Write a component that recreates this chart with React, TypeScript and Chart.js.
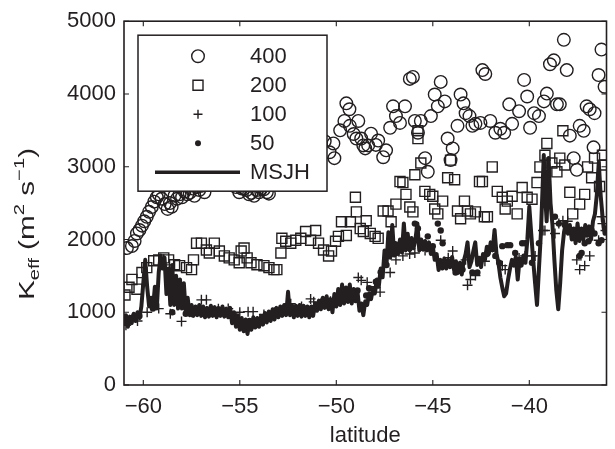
import React, { useEffect, useRef } from 'react';
import { Chart, registerables } from 'chart.js';

Chart.register(...registerables);

const INK = '#231f20';
const FONT = '"Liberation Sans", Arial, Helvetica, sans-serif';

const xTicks = [-60, -55, -50, -45, -40];
const yTicks = [0, 1000, 2000, 3000, 4000, 5000];
const xRange = [-61, -36];
const yRange = [0, 5000];
const legendLabels = ['400', '200', '100', '50', 'MSJH'];

// [latitude, K_eff]
const k400: [number, number][] = [
  [-60.85, 1882], [-60.59, 1910], [-60.45, 1980], [-60.33, 2083], [-60.2, 2130], [-60.07, 2190],
  [-59.95, 2250], [-59.82, 2312], [-59.7, 2380], [-59.56, 2446], [-59.43, 2520], [-59.3, 2580],
  [-59.2, 2620], [-59.05, 2560], [-58.89, 2486], [-58.74, 2420], [-58.62, 2500], [-58.53, 2450],
  [-58.38, 2600], [-58.25, 2560], [-58.12, 2620], [-57.99, 2580], [-57.86, 2660], [-57.72, 2620],
  [-57.6, 2640], [-57.45, 2700], [-57.35, 2600], [-57.2, 2720], [-57.1, 2680], [-56.95, 2740],
  [-56.83, 2650], [-56.6, 2800], [-56.3, 2900], [-56.0, 2850], [-55.7, 2780], [-55.4, 2750],
  [-55.2, 2720], [-55.03, 2650], [-54.9, 2700], [-54.78, 2700], [-54.65, 2680], [-54.52, 2620],
  [-54.4, 2640], [-54.26, 2600], [-54.12, 2680], [-54.0, 2650], [-53.88, 2700], [-53.75, 2690],
  [-53.6, 2650], [-53.49, 2630], [-53.2, 2800], [-52.9, 2900], [-52.5, 3000], [-52.1, 3100],
  [-51.7, 3050], [-51.3, 3200], [-50.9, 3250], [-50.6, 3350], [-50.35, 3199], [-50.15, 3320],
  [-50.1, 3118], [-49.8, 3500], [-49.58, 3629], [-49.48, 3871], [-49.32, 3790], [-49.3, 3562],
  [-49.1, 3450], [-48.96, 3387], [-48.86, 3629], [-48.71, 3387], [-48.6, 3293], [-48.5, 3252],
  [-48.35, 3293], [-48.2, 3454], [-47.95, 3300], [-47.83, 3360], [-47.57, 3131], [-47.42, 3225],
  [-47.21, 3535], [-47.06, 3830], [-46.91, 3696], [-46.7, 3602], [-46.44, 3830], [-46.19, 4207],
  [-46.03, 4234], [-45.93, 3629], [-45.77, 3467], [-45.62, 3629], [-45.4, 3118], [-45.26, 2930],
  [-45.1, 3696], [-44.9, 3992], [-44.74, 3830], [-44.59, 4166], [-44.38, 3898], [-44.23, 3387],
  [-44.08, 3091], [-43.97, 3252], [-43.72, 3562], [-43.56, 3992], [-43.41, 3871], [-43.3, 3736],
  [-43.1, 3696], [-42.95, 3562], [-42.79, 3589], [-42.53, 3602], [-42.43, 4328], [-42.28, 4274],
  [-42.02, 3629], [-41.76, 3467], [-41.5, 3521], [-41.3, 3467], [-41.04, 3857], [-40.89, 3589],
  [-40.53, 3763], [-40.27, 4193], [-40.11, 3965], [-39.96, 3535], [-39.75, 3736], [-39.5, 3696],
  [-39.24, 3898], [-39.09, 4005], [-38.93, 4408], [-38.73, 4462], [-38.57, 3857], [-38.42, 3857],
  [-38.21, 4744], [-38.06, 4328], [-37.9, 3427], [-37.7, 3118], [-37.54, 2957], [-37.39, 3562],
  [-37.18, 3494], [-37.03, 3830], [-36.87, 3790], [-36.67, 3266], [-36.62, 3736], [-36.41, 4260],
  [-36.26, 4610], [-36.1, 4099],
];

const k200: [number, number][] = [
  [-60.95, 1237], [-60.74, 1344], [-60.59, 1451], [-60.33, 1317], [-60.07, 1545], [-59.82, 1613],
  [-59.46, 1707], [-59.2, 1720], [-58.94, 1747], [-58.69, 1720], [-58.38, 1653], [-58.12, 1640],
  [-57.76, 1613], [-57.5, 1586], [-57.4, 1720], [-57.24, 1949], [-56.99, 1949], [-56.73, 1855],
  [-56.58, 1814], [-56.32, 1949], [-56.06, 1841], [-55.8, 1774], [-55.55, 1747], [-55.29, 1720],
  [-55.03, 1680], [-54.93, 1841], [-54.78, 1882], [-54.62, 1747], [-54.42, 1680], [-54.11, 1653],
  [-53.75, 1640], [-53.49, 1613], [-53.23, 1586], [-53.08, 1586], [-52.87, 1814], [-52.82, 2016],
  [-52.62, 1976], [-52.36, 1949], [-52.1, 1989], [-51.84, 2016], [-51.59, 2110], [-51.33, 1989],
  [-51.07, 2124], [-50.92, 1949], [-50.66, 1855], [-50.4, 1774], [-50.25, 1841], [-50.04, 1976],
  [-49.89, 2043], [-49.73, 2244], [-49.48, 2056], [-49.27, 2244], [-49.01, 2580], [-48.96, 2379],
  [-48.76, 2150], [-48.6, 2110], [-48.45, 2258], [-48.24, 2083], [-47.99, 2043], [-47.83, 2016],
  [-47.57, 2392], [-47.32, 2392], [-47.16, 2244], [-46.91, 2486], [-46.7, 2796], [-46.55, 2782],
  [-46.39, 2620], [-46.19, 2446], [-46.03, 2379], [-45.93, 2890], [-45.77, 3387], [-45.77, 3494],
  [-45.62, 3051], [-45.41, 2661], [-45.16, 2620], [-45.0, 2594], [-44.9, 2419], [-44.74, 2352],
  [-44.49, 2527], [-44.23, 2849], [-44.08, 3091], [-43.87, 2822], [-43.72, 2392], [-43.56, 2285],
  [-43.36, 2527], [-43.2, 2392], [-43.05, 2352], [-42.79, 2379], [-42.58, 2796], [-42.43, 2796],
  [-42.33, 2312], [-42.17, 2312], [-41.92, 2997], [-41.66, 2661], [-41.4, 2580], [-41.25, 2419],
  [-41.14, 2527], [-40.89, 2594], [-40.63, 2352], [-40.37, 2715], [-40.11, 2580], [-39.86, 2554],
  [-39.6, 2782], [-39.45, 2997], [-39.19, 3158], [-39.09, 3320], [-38.83, 3051], [-38.57, 2930],
  [-38.42, 3118], [-38.26, 3494], [-38.16, 3024], [-37.9, 2648], [-37.75, 2352], [-37.39, 2486],
  [-37.13, 2620], [-36.98, 2997], [-36.77, 2849], [-36.62, 3118], [-36.36, 2728], [-36.21, 3158],
  [-36.1, 3024],
];

const k100: [number, number][] = [
  [-60.9, 820], [-60.6, 900], [-60.3, 880], [-59.8, 1000], [-59.2, 1050], [-58.6, 980],
  [-58.02, 874], [-57.5, 1000], [-56.99, 1170], [-56.73, 1170], [-56.11, 1048], [-55.6, 1050],
  [-55.0, 1000], [-54.57, 1008], [-54.31, 1008], [-53.75, 968], [-53.2, 1000], [-52.72, 1048],
  [-52.36, 1116], [-51.8, 1080], [-51.33, 1183], [-51.17, 1143], [-50.81, 1120], [-50.3, 1150],
  [-49.63, 1236], [-49.27, 1277], [-48.86, 1478], [-48.71, 1438], [-48.4, 1411], [-48.0, 1350],
  [-47.73, 1277], [-47.21, 1546], [-46.91, 1720], [-46.55, 1774], [-46.2, 1800], [-45.93, 1814],
  [-45.4, 1850], [-44.59, 1989], [-44.2, 1750], [-43.97, 1841], [-43.3, 1720], [-43.2, 1371],
  [-43.05, 1451], [-42.79, 1505], [-42.3, 1700], [-41.4, 1640], [-41.25, 1586], [-40.53, 1747],
  [-40.22, 1774], [-39.86, 1774], [-39.7, 1774], [-39.29, 2124], [-39.19, 2124], [-38.67, 2083],
  [-38.47, 2218], [-38.26, 2258], [-38.01, 2250], [-37.54, 1720], [-37.39, 1586], [-37.13, 1640],
  [-36.87, 1774], [-36.41, 1989], [-36.26, 2312], [-36.21, 2218], [-36.05, 2124],
];

const k50: [number, number][] = [
  [-60.8, 870], [-60.2, 950], [-59.5, 1050], [-58.5, 1000], [-57.8, 980], [-57.0, 1050],
  [-56.2, 1020], [-55.3, 960], [-54.5, 880], [-53.5, 950], [-52.5, 1020], [-51.5, 1050],
  [-50.5, 1120], [-49.5, 1250], [-48.9, 1300], [-48.45, 1230], [-48.3, 1330], [-47.95, 1420],
  [-47.7, 1550], [-47.4, 1650], [-47.0, 1800], [-46.6, 1900], [-46.2, 1880], [-45.93, 2218],
  [-45.77, 2150], [-45.26, 2043], [-45.0, 1908], [-44.74, 2218], [-44.59, 2124], [-44.49, 1949],
  [-44.33, 1680], [-43.97, 1680], [-43.82, 1546], [-43.46, 1586], [-42.95, 1546], [-42.69, 1546],
  [-42.2, 1800], [-41.76, 1774], [-41.56, 1680], [-41.4, 1908], [-41.14, 1922], [-40.99, 1922],
  [-40.73, 1814], [-40.37, 1949], [-40.22, 1949], [-39.86, 1680], [-39.5, 1949], [-38.67, 2312],
  [-38.47, 2218], [-38.16, 2200], [-37.9, 2124], [-37.65, 2100], [-37.39, 1774], [-37.29, 1814],
  [-37.13, 1949], [-36.93, 1976], [-36.77, 2124], [-36.62, 2083], [-36.41, 1949], [-36.26, 1989],
];

const msjh: [number, number][] = [
  [-61.0, 820], [-60.9, 960], [-60.8, 800], [-60.7, 940], [-60.6, 850], [-60.5, 980], [-60.4, 880],
  [-60.3, 1000], [-60.2, 920], [-60.1, 1080], [-60.0, 1400], [-59.9, 1720], [-59.8, 1350], [-59.7, 1080],
  [-59.6, 1200], [-59.5, 1050], [-59.4, 1350], [-59.3, 1050], [-59.2, 1550], [-59.1, 1780], [-59.0, 1600],
  [-58.9, 1750], [-58.8, 1250], [-58.7, 1600], [-58.6, 1100], [-58.5, 1650], [-58.4, 1100], [-58.3, 1500],
  [-58.2, 1050], [-58.1, 1450], [-58.0, 1050], [-57.9, 1400], [-57.8, 1000], [-57.7, 1200], [-57.6, 960],
  [-57.5, 1100], [-57.4, 950], [-57.3, 1080], [-57.2, 960], [-57.1, 1100], [-57.0, 950], [-56.9, 1080],
  [-56.8, 930], [-56.7, 1060], [-56.6, 940], [-56.5, 1090], [-56.4, 950], [-56.3, 1070], [-56.2, 930],
  [-56.1, 1060], [-56.0, 950], [-55.9, 1080], [-55.8, 940], [-55.7, 1050], [-55.6, 930], [-55.5, 1060],
  [-55.4, 850], [-55.3, 1000], [-55.2, 800], [-55.1, 960], [-55.0, 760], [-54.9, 920], [-54.8, 740],
  [-54.7, 900], [-54.6, 700], [-54.5, 880], [-54.4, 760], [-54.3, 930], [-54.2, 790], [-54.1, 920],
  [-54.0, 800], [-53.9, 950], [-53.8, 830], [-53.7, 990], [-53.6, 860], [-53.5, 1010], [-53.4, 880],
  [-53.3, 1040], [-53.2, 900], [-53.1, 1060], [-53.0, 930], [-52.9, 1080], [-52.8, 950], [-52.7, 1100],
  [-52.6, 960], [-52.5, 1280], [-52.4, 960], [-52.3, 1100], [-52.2, 930], [-52.1, 1090], [-52.0, 950],
  [-51.9, 1100], [-51.8, 940], [-51.7, 1090], [-51.6, 950], [-51.5, 1080], [-51.4, 930], [-51.3, 1080],
  [-51.2, 950], [-51.1, 1120], [-51.0, 1020], [-50.9, 1160], [-50.8, 1040], [-50.7, 1200], [-50.6, 1060],
  [-50.5, 1220], [-50.4, 1040], [-50.3, 1180], [-50.2, 1000], [-50.1, 1250], [-50.0, 1080], [-49.9, 1320],
  [-49.8, 1100], [-49.7, 1380], [-49.6, 1120], [-49.5, 1340], [-49.4, 1140], [-49.3, 1380], [-49.2, 1120],
  [-49.1, 1320], [-49.0, 1150], [-48.9, 1280], [-48.8, 1020], [-48.7, 1120], [-48.6, 960], [-48.5, 1150],
  [-48.4, 1100], [-48.3, 1260], [-48.2, 1180], [-48.1, 1320], [-48.0, 1260], [-47.9, 1450], [-47.8, 1350],
  [-47.7, 1600], [-47.6, 1480], [-47.5, 1850], [-47.4, 1650], [-47.3, 2100], [-47.2, 1750], [-47.1, 2200],
  [-47.0, 1780], [-46.9, 1950], [-46.8, 1800], [-46.7, 2000], [-46.6, 1820], [-46.5, 2220], [-46.4, 1850],
  [-46.3, 2080], [-46.2, 1850], [-46.1, 2020], [-46.0, 1880], [-45.9, 2000], [-45.8, 2220], [-45.7, 1850],
  [-45.6, 2000], [-45.5, 1860], [-45.4, 1980], [-45.3, 1850], [-45.2, 1960], [-45.1, 1800], [-45.0, 1900],
  [-44.9, 1720], [-44.8, 1800], [-44.7, 1580], [-44.6, 1720], [-44.5, 1600], [-44.4, 1740], [-44.3, 1600],
  [-44.2, 1720], [-44.1, 1620], [-44.0, 1760], [-43.9, 1580], [-43.8, 1700], [-43.7, 1540], [-43.6, 1680],
  [-43.5, 1520], [-43.4, 1700], [-43.3, 1800], [-43.2, 1960], [-43.1, 1620], [-43.0, 1700], [-42.9, 1840],
  [-42.8, 1960], [-42.7, 1650], [-42.6, 1750], [-42.5, 1620], [-42.4, 1800], [-42.3, 1720], [-42.2, 1900],
  [-42.1, 1800], [-42.0, 1960], [-41.9, 1850], [-41.8, 2130], [-41.7, 1800], [-41.6, 1680], [-41.5, 1480],
  [-41.4, 1340], [-41.3, 1220], [-41.2, 1260], [-41.1, 1450], [-41.0, 1600], [-40.9, 1720], [-40.8, 1640],
  [-40.7, 1760], [-40.6, 1450], [-40.5, 1740], [-40.4, 1640], [-40.3, 1780], [-40.2, 1680], [-40.1, 2000],
  [-40.0, 2450], [-39.9, 2080], [-39.8, 1720], [-39.7, 1400], [-39.6, 1100], [-39.5, 1600], [-39.4, 2080],
  [-39.3, 2800], [-39.25, 3160], [-39.2, 2700], [-39.1, 2250], [-39.0, 3120], [-38.9, 2500], [-38.8, 2200],
  [-38.7, 1720], [-38.6, 1300], [-38.5, 1040], [-38.4, 1400], [-38.3, 1850], [-38.2, 2100], [-38.1, 2240],
  [-38.0, 2080], [-37.9, 2200], [-37.8, 2000], [-37.7, 2150], [-37.6, 1950], [-37.5, 2220], [-37.4, 1980],
  [-37.3, 2150], [-37.2, 2000], [-37.1, 2200], [-37.0, 2050], [-36.9, 2180], [-36.8, 2000], [-36.7, 2250],
  [-36.6, 2350], [-36.5, 2620], [-36.4, 3060], [-36.3, 2600], [-36.2, 2300], [-36.1, 2080], [-36.0, 2150],
];

const toXY = (arr: [number, number][]) => arr.map(([x, y]) => ({ x, y }));
const fmt = (v: number) => (v < 0 ? '\u2212' + Math.abs(v) : String(v));

function drawMarker(ctx: CanvasRenderingContext2D, kind: number, x: number, y: number) {
  ctx.beginPath();
  ctx.lineWidth = 1.4;
  if (kind === 0) {
    ctx.arc(x, y, 6.3, 0, Math.PI * 2);
    ctx.stroke();
  } else if (kind === 1) {
    ctx.rect(x - 5, y - 5, 10, 10);
    ctx.stroke();
  } else if (kind === 2) {
    ctx.moveTo(x - 4.5, y); ctx.lineTo(x + 4.5, y);
    ctx.moveTo(x, y - 4.5); ctx.lineTo(x, y + 4.5);
    ctx.stroke();
  } else if (kind === 3) {
    ctx.arc(x, y, 3, 0, Math.PI * 2);
    ctx.fill();
  }
}

const decorPlugin = {
  id: 'decor',
  afterDatasetsDraw(chart: any) {
    const { ctx, chartArea: a, scales } = chart;
    ctx.save();
    ctx.strokeStyle = INK;
    ctx.fillStyle = INK;
    // frame
    ctx.lineWidth = 1.6;
    ctx.strokeRect(a.left, a.top, a.right - a.left, a.bottom - a.top);
    // inward ticks
    ctx.lineWidth = 1.1;
    ctx.beginPath();
    xTicks.forEach((v) => {
      const px = scales.x.getPixelForValue(v);
      ctx.moveTo(px, a.bottom); ctx.lineTo(px, a.bottom - 5);
      ctx.moveTo(px, a.top); ctx.lineTo(px, a.top + 5);
    });
    yTicks.forEach((v) => {
      const py = scales.y.getPixelForValue(v);
      ctx.moveTo(a.left, py); ctx.lineTo(a.left + 5, py);
      ctx.moveTo(a.right, py); ctx.lineTo(a.right - 5, py);
    });
    ctx.stroke();
    // legend
    const lx = a.left + 14, ly = a.top + 14, lw = 189, lh = 156;
    ctx.fillStyle = '#ffffff';
    ctx.fillRect(lx, ly, lw, lh);
    ctx.lineWidth = 1.5;
    ctx.strokeRect(lx, ly, lw, lh);
    ctx.fillStyle = INK;
    ctx.font = '22px ' + FONT;
    ctx.textBaseline = 'middle';
    ctx.textAlign = 'left';
    legendLabels.forEach((label, i) => {
      const ry = ly + 21 + i * 29;
      if (i < 4) {
        drawMarker(ctx, i, lx + 60, ry);
      } else {
        ctx.lineWidth = 3.5;
        ctx.beginPath();
        ctx.moveTo(lx + 17, ry); ctx.lineTo(lx + 102, ry);
        ctx.stroke();
      }
      ctx.fillText(label, lx + 112, ry + 1);
    });
    // y axis title with sub/superscripts
    const cy = 224;
    ctx.translate(34, cy);
    ctx.rotate(-Math.PI / 2);
    ctx.scale(1.35, 1);
    ctx.textBaseline = 'alphabetic';
    const big = '22px ' + FONT;
    const small = '15px ' + FONT;
    const parts: [string, string, number][] = [
      ['K', big, 0], ['eff', small, 5], [' (m', big, 0], ['2', small, -10],
      [' s', big, 0], ['\u22121', small, -10], [')', big, 0],
    ];
    let total = 0;
    parts.forEach(([t, f]) => { ctx.font = f; total += ctx.measureText(t).width; });
    let x = -total / 2;
    parts.forEach(([t, f, dy]) => {
      ctx.font = f;
      ctx.fillText(t, x, dy);
      x += ctx.measureText(t).width;
    });
    ctx.restore();
  },
};

export default function App() {
  const ref = useRef<HTMLCanvasElement | null>(null);
  useEffect(() => {
    if (!ref.current) return;
    Chart.defaults.font.family = FONT;
    Chart.defaults.color = INK;
    const chart = new Chart(ref.current, {
      type: 'scatter',
      data: {
        datasets: [
          {
            label: legendLabels[0], data: toXY(k400), order: 5,
            pointStyle: 'circle', pointRadius: 6.3, borderWidth: 1.4,
            borderColor: INK, backgroundColor: 'rgba(0,0,0,0)',
          },
          {
            label: legendLabels[1], data: toXY(k200), order: 4,
            pointStyle: 'rect', pointRadius: 7.1, borderWidth: 1.4,
            borderColor: INK, backgroundColor: 'rgba(0,0,0,0)',
          },
          {
            label: legendLabels[2], data: toXY(k100), order: 3,
            pointStyle: 'cross', pointRadius: 5, borderWidth: 1.4,
            borderColor: INK, backgroundColor: INK,
          },
          {
            label: legendLabels[3], data: toXY(k50), order: 2,
            pointStyle: 'circle', pointRadius: 3.2, borderWidth: 0,
            borderColor: INK, backgroundColor: INK,
          },
          {
            type: 'line', label: legendLabels[4], data: toXY(msjh), order: 1,
            showLine: true, borderColor: INK, borderWidth: 4, pointRadius: 0,
            tension: 0, fill: false, borderJoinStyle: 'round',
          } as any,
        ],
      },
      options: {
        animation: false,
        responsive: false,
        devicePixelRatio: 1,
        layout: { padding: { top: 13, right: 6, left: 0, bottom: 0 } },
        plugins: { legend: { display: false }, tooltip: { enabled: false } },
        scales: {
          x: {
            type: 'linear', min: xRange[0], max: xRange[1],
            afterBuildTicks: (s: any) => { s.ticks = xTicks.map((v) => ({ value: v })); },
            afterFit: (s: any) => { s.height = 64; },
            grid: { display: false, drawTicks: false },
            border: { display: false },
            ticks: { font: { size: 22 }, color: INK, padding: 9, maxRotation: 0, callback: (v: any) => fmt(Number(v)) },
            title: { display: true, text: 'latitude', font: { size: 22 }, color: INK, padding: { top: 0, bottom: 0 } },
          },
          y: {
            type: 'linear', min: yRange[0], max: yRange[1],
            afterBuildTicks: (s: any) => { s.ticks = yTicks.map((v) => ({ value: v })); },
            afterFit: (s: any) => { s.width = 124; },
            grid: { display: false, drawTicks: false },
            border: { display: false },
            ticks: { font: { size: 22 }, color: INK, padding: 8, callback: (v: any) => fmt(Number(v)) },
          },
        },
      },
      plugins: [decorPlugin],
    });
    return () => chart.destroy();
  }, []);
  return (
    <div style={{ position: 'absolute', left: 0, top: 0, width: 615, height: 449, background: '#fff' }}>
      <canvas ref={ref} width={615} height={449} style={{ width: 615, height: 449, display: 'block' }} />
    </div>
  );
}
